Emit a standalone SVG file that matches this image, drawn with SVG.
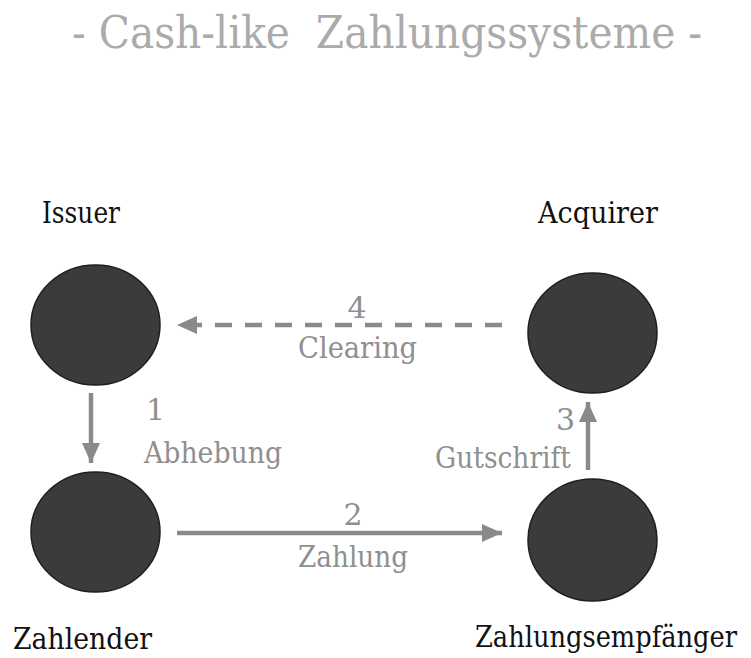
<svg xmlns="http://www.w3.org/2000/svg" width="751" height="658" viewBox="0 0 751 658">
  <style>
    text { font-family: "DejaVu Serif", "Liberation Serif", serif; }
    .title { font-size: 44px; fill: #ababab; }
    .node-label { font-size: 30px; fill: #111111; }
    .edge-label { font-size: 30px; fill: #8f8f8f; }
    .node { fill: #3b3b3b; stroke: #1e1e1e; stroke-width: 1.5; }
    .edge { stroke: #8a8a8a; stroke-width: 4.5; fill: none; marker-end: url(#head); }
    .dashed { stroke-dasharray: 17 13; }
  </style>
  <defs>
    <marker id="head" markerUnits="userSpaceOnUse" markerWidth="22" markerHeight="20" refX="20" refY="9" orient="auto">
      <path d="M0,0 L20,9 L0,18 Z" fill="#8a8a8a"/>
    </marker>
  </defs>

  <rect width="751" height="658" fill="#ffffff"/>

  <text class="title" x="72" y="48" textLength="630" lengthAdjust="spacingAndGlyphs" xml:space="preserve">- Cash-like  Zahlungssysteme -</text>

  <g id="connectors">
    <path class="edge dashed" d="M502,325 L177,325"/>
    <path class="edge" d="M91,393 L91,463"/>
    <path class="edge" d="M177,533 L502,533"/>
    <path class="edge" d="M588,470 L588,402"/>
    <text class="edge-label" x="357" y="318" text-anchor="middle">4</text>
    <text class="edge-label" x="298" y="358" textLength="119" lengthAdjust="spacingAndGlyphs">Clearing</text>
    <text class="edge-label" x="146" y="420">1</text>
    <text class="edge-label" x="144" y="463" textLength="138" lengthAdjust="spacingAndGlyphs">Abhebung</text>
    <text class="edge-label" x="353" y="525" text-anchor="middle">2</text>
    <text class="edge-label" x="298" y="567" textLength="110" lengthAdjust="spacingAndGlyphs">Zahlung</text>
    <text class="edge-label" x="575" y="430" text-anchor="end">3</text>
    <text class="edge-label" x="435" y="468" textLength="136" lengthAdjust="spacingAndGlyphs">Gutschrift</text>
  </g>

  <g id="issuer">
    <ellipse class="node" cx="95.5" cy="325" rx="64.5" ry="60"/>
    <text class="node-label" x="42" y="223" textLength="78" lengthAdjust="spacingAndGlyphs">Issuer</text>
  </g>

  <g id="acquirer">
    <ellipse class="node" cx="592.5" cy="333" rx="64.5" ry="60"/>
    <text class="node-label" x="538" y="223" textLength="120" lengthAdjust="spacingAndGlyphs">Acquirer</text>
  </g>

  <g id="zahlender">
    <ellipse class="node" cx="95.5" cy="532" rx="64.5" ry="60"/>
    <text class="node-label" x="13" y="649" textLength="139" lengthAdjust="spacingAndGlyphs">Zahlender</text>
  </g>

  <g id="zahlungsempfaenger">
    <ellipse class="node" cx="592.5" cy="540" rx="64.5" ry="61"/>
    <text class="node-label" x="475" y="647" font-size="26" textLength="262" lengthAdjust="spacingAndGlyphs">Zahlungsempfänger</text>
  </g>
</svg>
